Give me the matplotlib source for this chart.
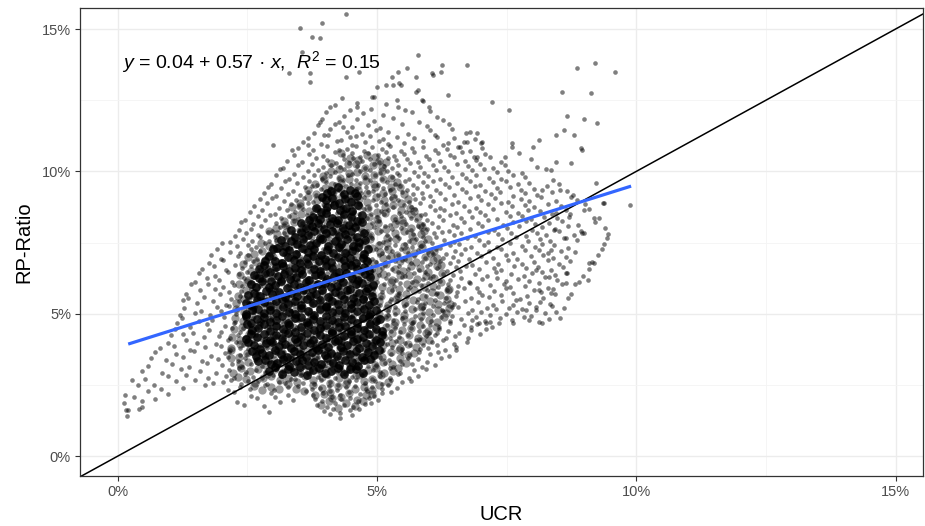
import matplotlib
matplotlib.use("Agg")
import matplotlib.pyplot as plt
import numpy as np
from matplotlib.ticker import FuncFormatter, MultipleLocator

plt.rcParams["font.family"] = ["Liberation Sans", "DejaVu Sans"]
plt.rcParams["mathtext.fontset"] = "custom"
plt.rcParams["mathtext.rm"] = "Liberation Sans"
plt.rcParams["mathtext.it"] = "Liberation Sans:italic"

# UCR (x) vs RP-Ratio (y), both in basis points:
# (RP-Ratio of the row, [UCR values in that row])
body_rows = [
    (140, [18, 409, 428, 451]),
    (160, [15, 41, 291, 397, 415, 429, 448, 466]),
    (180, [12, 46, 243, 281, 312, 385, 404, 418, 437, 454, 476, 489]),
    (200, [31, 72, 229, 268, 303, 337, 380, 394, 413, 430, 448, 463, 484, 502]),
    (220, [14, 58, 97, 224, 257, 296, 329, 362, 377, 396, 410, 428, 445, 467, 480, 495, 509, 527]),
    (240, [39, 84, 126, 168, 213, 236, 255, 283, 301, 329, 348, 375, 389, 408, 422, 441, 457, 478, 491, 509, 522, 538]),
    (260, [27, 69, 112, 149, 183, 203, 218, 238, 252, 271, 288, 310, 323, 341, 357, 378, 391, 409, 425, 446, 459, 477, 496, 509, 527, 548, 566]),
    (280, [52, 96, 131, 174, 208, 224, 245, 261, 279, 300, 315, 334, 353, 367, 386, 405, 419, 438, 452, 471, 490, 505, 524, 540, 561, 579]),
    (300, [47, 86, 121, 158, 189, 214, 234, 248, 267, 283, 305, 318, 336, 352, 373, 388, 406, 422, 443, 456, 474, 493, 506, 524, 545, 571, 594]),
    (320, [58, 104, 137, 171, 201, 220, 239, 256, 278, 291, 309, 325, 346, 360, 378, 397, 411, 430, 444, 463, 482, 497, 516, 530, 549, 568, 587, 611]),
    (340, [64, 92, 126, 162, 193, 213, 231, 246, 265, 282, 304, 317, 335, 351, 372, 387, 405, 421, 442, 455, 473, 492, 505, 523, 544, 559, 578, 597, 623]),
    (360, [72, 113, 146, 180, 206, 215, 236, 250, 268, 285, 307, 320, 338, 354, 375, 390, 408, 424, 446, 459, 477, 496, 509, 527, 548, 562, 581, 602, 618, 639]),
    (380, [81, 109, 139, 168, 198, 217, 235, 252, 274, 287, 305, 321, 342, 356, 374, 393, 406, 425, 439, 458, 480, 494, 511, 528, 549, 563, 582, 599, 615, 631, 652]),
    (400, [97, 131, 152, 189, 212, 227, 242, 261, 278, 300, 313, 331, 347, 368, 382, 400, 419, 432, 451, 465, 484, 506, 520, 537, 554, 575, 589, 606, 628, 649, 674]),
    (420, [103, 126, 167, 195, 217, 232, 246, 266, 283, 305, 318, 336, 352, 374, 387, 405, 424, 437, 456, 470, 489, 511, 525, 542, 559, 580, 594, 611, 632, 651, 676, 699]),
    (440, [111, 145, 176, 199, 221, 235, 255, 269, 288, 304, 326, 339, 357, 373, 394, 409, 427, 443, 464, 477, 495, 514, 527, 545, 566, 581, 600, 619, 636, 658, 681, 711]),
    (460, [114, 139, 171, 207, 224, 241, 256, 275, 292, 314, 327, 345, 361, 383, 396, 414, 433, 446, 465, 479, 498, 520, 534, 551, 568, 589, 603, 620, 641, 667, 693, 722]),
    (480, [123, 156, 181, 204, 226, 246, 260, 279, 295, 317, 330, 348, 367, 381, 400, 414, 433, 447, 468, 481, 499, 518, 531, 549, 570, 585, 604, 623, 641, 662, 690, 709, 738, 761, 784, 812, 831, 853]),
    (500, [119, 148, 177, 199, 228, 243, 263, 277, 296, 312, 334, 347, 365, 381, 402, 417, 435, 451, 472, 485, 503, 522, 535, 553, 574, 589, 608, 627, 645, 675, 701, 718, 749, 770, 797, 823, 846]),
    (520, [128, 161, 192, 214, 229, 249, 263, 282, 298, 320, 333, 351, 370, 384, 403, 417, 436, 450, 471, 484, 502, 521, 534, 552, 573, 588, 607, 626, 644, 657, 683, 712, 730, 762, 779, 806, 838, 861]),
    (540, [126, 152, 184, 209, 233, 252, 267, 286, 302, 324, 337, 355, 374, 388, 407, 421, 440, 454, 475, 488, 506, 525, 538, 556, 577, 592, 611, 630, 649, 670, 694, 723, 741, 768, 793, 815, 833]),
    (560, [135, 166, 197, 219, 235, 255, 269, 288, 304, 326, 339, 357, 376, 390, 409, 423, 442, 456, 477, 490, 508, 527, 540, 558, 579, 594, 613, 632, 652, 681, 703, 716, 739, 775, 790, 821, 844, 869]),
    (580, [131, 159, 188, 214, 237, 256, 271, 290, 306, 328, 341, 359, 378, 392, 411, 425, 444, 458, 479, 492, 510, 529, 542, 560, 581, 596, 615, 634, 655, 668, 697, 726, 748, 763, 802, 817, 840, 874]),
    (600, [142, 174, 203, 224, 240, 259, 274, 293, 309, 331, 344, 362, 381, 395, 414, 428, 447, 461, 482, 495, 513, 532, 545, 563, 584, 599, 618, 637, 657, 679, 692, 718, 744, 757, 786, 812, 829, 857, 881]),
    (620, [149, 171, 196, 221, 244, 263, 278, 297, 313, 335, 348, 366, 385, 399, 418, 432, 451, 465, 486, 499, 517, 536, 549, 567, 588, 603, 622, 641, 661, 677, 703, 731, 749, 771, 794, 824, 848, 889]),
    (640, [156, 188, 213, 233, 249, 268, 283, 302, 318, 340, 353, 371, 390, 404, 423, 437, 456, 470, 491, 504, 522, 541, 554, 572, 593, 608, 627, 646, 659, 688, 712, 729, 758, 783, 799, 818, 843, 866, 898]),
    (660, [163, 185, 209, 239, 256, 272, 290, 306, 327, 341, 359, 378, 392, 411, 425, 444, 458, 479, 492, 510, 529, 542, 560, 581, 596, 615, 634, 652, 671, 696, 725, 739, 765, 788, 811, 836, 858, 909]),
    (680, [176, 203, 226, 245, 261, 279, 296, 313, 333, 347, 365, 384, 398, 417, 431, 450, 464, 485, 498, 516, 535, 548, 566, 587, 602, 621, 640, 657, 683, 711, 733, 752, 779, 803, 829, 851, 873, 918]),
    (700, [179, 198, 232, 251, 268, 285, 301, 320, 339, 353, 371, 390, 404, 423, 437, 456, 470, 491, 504, 522, 541, 554, 572, 593, 608, 627, 646, 662, 678, 701, 724, 748, 770, 797, 821, 840, 864, 926]),
    (720, [192, 217, 236, 257, 274, 290, 308, 326, 345, 359, 377, 396, 410, 429, 443, 462, 476, 497, 510, 528, 547, 560, 578, 599, 614, 633, 651, 669, 693, 716, 739, 762, 786, 813, 829, 855, 881, 933]),
    (740, [201, 229, 251, 267, 283, 298, 317, 333, 352, 366, 384, 403, 417, 436, 450, 469, 483, 504, 517, 535, 554, 567, 585, 606, 621, 640, 658, 681, 706, 731, 756, 779, 804, 818, 842, 869, 938]),
    (760, [217, 241, 259, 275, 291, 306, 325, 341, 360, 374, 392, 411, 425, 444, 458, 477, 491, 512, 525, 543, 562, 575, 593, 614, 629, 648, 673, 697, 714, 741, 768, 791, 815, 833, 860, 886, 943]),
    (780, [226, 247, 271, 289, 303, 320, 338, 355, 369, 387, 406, 420, 439, 453, 472, 486, 507, 520, 538, 557, 570, 588, 609, 626, 648, 661, 689, 713, 734, 758, 787, 809, 826, 851, 879, 946]),
    (800, [234, 256, 277, 297, 312, 328, 347, 363, 378, 396, 415, 429, 448, 462, 481, 495, 516, 529, 547, 566, 579, 597, 617, 638, 655, 679, 703, 726, 751, 774, 798, 819, 844, 868, 893, 939]),
    (820, [238, 261, 284, 306, 321, 339, 355, 372, 387, 405, 424, 438, 457, 471, 490, 504, 525, 538, 556, 575, 588, 606, 627, 646, 668, 694, 713, 742, 763, 788, 805, 831, 856, 887, 921]),
    (840, [246, 271, 293, 314, 330, 347, 364, 380, 396, 414, 433, 447, 466, 480, 499, 513, 534, 547, 565, 584, 597, 619, 640, 662, 684, 709, 731, 756, 779, 797, 822, 847, 873, 918]),
    (860, [255, 279, 303, 327, 342, 358, 375, 389, 405, 423, 442, 456, 475, 489, 508, 522, 543, 556, 574, 593, 611, 629, 652, 677, 698, 723, 749, 771, 792, 814, 838, 864, 909]),
    (880, [263, 288, 311, 334, 350, 366, 383, 398, 414, 432, 451, 465, 484, 498, 517, 531, 552, 565, 583, 602, 622, 645, 667, 691, 714, 739, 761, 786, 803, 829, 855, 902]),
    (900, [274, 297, 321, 344, 359, 376, 391, 407, 423, 441, 460, 474, 493, 507, 526, 540, 561, 574, 589, 608, 631, 656, 679, 701, 727, 752, 778, 794, 817, 846, 885]),
    (920, [281, 305, 329, 351, 367, 383, 400, 416, 432, 450, 469, 483, 502, 516, 535, 549, 570, 586, 603, 621, 648, 671, 694, 719, 737, 762, 785, 809, 838, 874]),
    (940, [289, 314, 338, 361, 375, 392, 409, 425, 441, 459, 478, 492, 511, 525, 544, 558, 577, 596, 614, 639, 663, 689, 708, 731, 756, 778, 802, 827, 866]),
    (960, [296, 322, 346, 369, 384, 401, 418, 434, 450, 468, 487, 501, 520, 534, 553, 569, 588, 607, 631, 654, 680, 699, 723, 748, 771, 793, 851]),
    (980, [305, 331, 357, 379, 393, 410, 427, 443, 459, 477, 496, 510, 529, 543, 562, 579, 598, 622, 645, 672, 691, 716, 739, 762, 786, 839]),
    (1000, [312, 339, 366, 386, 402, 419, 436, 452, 468, 486, 505, 519, 538, 553, 571, 590, 614, 637, 663, 684, 706, 731, 752, 779, 826]),
    (1020, [319, 347, 374, 395, 411, 428, 445, 461, 477, 495, 514, 528, 541, 563, 583, 607, 629, 655, 676, 698, 723, 747, 809]),
    (1040, [327, 356, 383, 403, 420, 437, 454, 470, 486, 504, 521, 536, 557, 578, 601, 622, 648, 669, 691, 717, 739, 796]),
    (1060, [339, 368, 396, 418, 434, 451, 467, 483, 501, 518, 532, 551, 572, 594, 617, 641, 663, 686, 708, 773]),
    (1080, [347, 377, 404, 426, 442, 459, 475, 491, 509, 524, 546, 568, 588, 611, 635, 657, 679, 702, 761]),
    (1100, [358, 391, 423, 451, 477, 503, 521, 552, 589, 628, 667, 702]),
    (1120, [366, 398, 431, 459, 486, 511, 538, 571, 611, 649, 688]),
    (1140, [378, 409, 442, 471, 497, 522, 559, 603, 644, 679]),
    (1160, [386, 418, 451, 482, 506, 549, 597, 638]),
    (1180, [393, 427, 462, 494, 531, 581, 627]),
    (1200, [401, 436, 473, 512, 568, 615]),
    (1220, [409, 447, 489, 541, 603]),
    (1240, [418, 461, 517, 588]),
]

# where the points pile up into grey (overlap zone)
shade_rows = [
    (180, [392, 408, 425, 441, 457, 473]),
    (210, [381, 397, 413, 430, 446, 462, 478, 490]),
    (240, [262, 279, 295, 311, 328, 344, 360, 376, 393, 409, 425, 441, 458, 474, 490, 503]),
    (270, [231, 247, 264, 280, 296, 312, 329, 345, 361, 377, 394, 410, 426, 442, 459, 475, 491, 507, 522]),
    (300, [222, 238, 254, 271, 287, 303, 319, 336, 352, 368, 384, 401, 417, 433, 449, 466, 482, 498, 514, 531, 541]),
    (330, [219, 236, 252, 268, 284, 301, 317, 333, 349, 366, 382, 398, 414, 431, 447, 463, 479, 496, 512, 528, 544, 556]),
    (360, [218, 234, 250, 267, 283, 299, 315, 332, 348, 364, 380, 397, 413, 429, 445, 462, 478, 494, 510, 527, 543, 559, 571]),
    (390, [219, 235, 251, 268, 284, 300, 316, 333, 349, 365, 381, 398, 414, 430, 446, 463, 479, 495, 511, 528, 544, 560, 576, 586]),
    (420, [220, 236, 253, 269, 285, 301, 318, 334, 350, 366, 383, 399, 415, 431, 448, 464, 480, 496, 513, 529, 545, 561, 578, 594, 601]),
    (450, [224, 240, 257, 273, 289, 305, 322, 338, 354, 370, 387, 403, 419, 435, 452, 468, 484, 500, 517, 533, 549, 565, 582, 598, 614]),
    (480, [226, 242, 259, 275, 291, 307, 324, 340, 356, 372, 389, 405, 421, 437, 454, 470, 486, 502, 519, 535, 551, 567, 584, 600, 616, 629]),
    (510, [227, 243, 260, 276, 292, 308, 325, 341, 357, 373, 390, 406, 422, 438, 455, 471, 487, 503, 520, 536, 552, 568, 585, 601, 617, 633, 639]),
    (540, [228, 244, 261, 277, 293, 309, 326, 342, 358, 374, 391, 407, 423, 439, 456, 472, 488, 504, 521, 537, 553, 569, 586, 602, 618, 634, 640]),
    (570, [231, 247, 264, 280, 296, 312, 329, 345, 361, 377, 394, 410, 426, 442, 459, 475, 491, 507, 524, 540, 556, 572, 589, 605, 621, 637]),
    (600, [233, 249, 266, 282, 298, 314, 331, 347, 363, 379, 396, 412, 428, 444, 461, 477, 493, 509, 526, 542, 558, 574, 591, 607, 623, 638]),
    (630, [236, 252, 269, 285, 301, 317, 334, 350, 366, 382, 399, 415, 431, 447, 464, 480, 496, 512, 529, 545, 561, 577, 594, 610, 626]),
    (660, [241, 257, 274, 290, 306, 322, 339, 355, 371, 387, 404, 420, 436, 452, 469, 485, 501, 517, 534, 550, 566, 582, 599, 615, 624]),
    (690, [251, 267, 284, 300, 316, 332, 349, 365, 381, 397, 414, 430, 446, 462, 479, 495, 511, 527, 544, 560, 576, 592, 608, 615]),
    (720, [262, 278, 295, 311, 327, 343, 360, 376, 392, 408, 425, 441, 457, 473, 490, 506, 522, 538, 555, 571, 587, 603, 609]),
    (750, [276, 292, 309, 325, 341, 357, 374, 390, 406, 422, 439, 455, 471, 487, 504, 520, 536, 552, 569, 585, 598]),
    (780, [291, 307, 324, 340, 356, 372, 389, 405, 421, 437, 454, 470, 486, 502, 519, 535, 551, 567, 584, 591]),
    (810, [306, 322, 339, 355, 371, 387, 404, 420, 436, 452, 469, 485, 501, 517, 534, 550, 566, 582, 586]),
    (840, [321, 337, 354, 370, 386, 402, 419, 435, 451, 467, 484, 500, 516, 532, 549, 565, 579]),
    (870, [336, 352, 369, 385, 401, 417, 434, 450, 466, 482, 499, 515, 531, 547, 564, 571]),
    (900, [351, 367, 384, 400, 416, 432, 449, 465, 481, 497, 514, 530, 546, 559]),
    (930, [366, 382, 399, 415, 431, 447, 464, 480, 496, 512, 529, 545, 551]),
    (960, [381, 397, 414, 430, 446, 462, 479, 495, 511, 527, 539]),
    (990, [396, 412, 429, 445, 461, 477, 494, 510, 526]),
    (1020, [411, 427, 444, 460, 476, 492, 509, 518]),
    (1050, [431, 447, 464, 480, 496, 503]),
]

# black core where thousands of points overlap
core_rows = [
    (300, [292, 304, 316, 328, 340, 352, 364, 376, 388, 400, 412, 424, 436, 448, 460, 472]),
    (330, [271, 283, 295, 307, 319, 331, 343, 355, 367, 379, 391, 403, 415, 427, 439, 451, 463, 475, 487]),
    (360, [258, 267, 279, 291, 303, 315, 327, 339, 351, 363, 375, 387, 399, 411, 423, 435, 447, 459, 471, 483, 495, 503]),
    (390, [252, 262, 274, 286, 298, 310, 322, 334, 346, 358, 370, 382, 394, 406, 418, 430, 442, 454, 466, 478, 490, 505]),
    (420, [248, 257, 269, 281, 293, 305, 317, 329, 341, 353, 365, 377, 389, 401, 413, 425, 437, 449, 461, 473, 485, 497, 509]),
    (450, [249, 258, 270, 282, 294, 306, 318, 330, 342, 354, 366, 378, 390, 402, 414, 426, 438, 450, 462, 474, 486, 498, 510]),
    (480, [247, 257, 269, 281, 293, 305, 317, 329, 341, 353, 365, 377, 389, 401, 413, 425, 437, 449, 461, 473, 485, 497, 506]),
    (510, [248, 258, 270, 282, 294, 306, 318, 330, 342, 354, 366, 378, 390, 402, 414, 426, 438, 450, 462, 474, 486, 498]),
    (540, [247, 257, 269, 281, 293, 305, 317, 329, 341, 353, 365, 377, 389, 401, 413, 425, 437, 449, 461, 473, 485, 495]),
    (570, [252, 262, 274, 286, 298, 310, 322, 334, 346, 358, 370, 382, 394, 406, 418, 430, 442, 454, 466, 478, 490]),
    (600, [257, 267, 279, 291, 303, 315, 327, 339, 351, 363, 375, 387, 399, 411, 423, 435, 447, 459, 471, 483, 492]),
    (630, [263, 272, 284, 296, 308, 320, 332, 344, 356, 368, 380, 392, 404, 416, 428, 440, 452, 464, 476, 486]),
    (660, [273, 282, 294, 306, 318, 330, 342, 354, 366, 378, 390, 402, 414, 426, 438, 450, 462, 474, 484]),
    (690, [284, 292, 304, 316, 328, 340, 352, 364, 376, 388, 400, 412, 424, 436, 448, 460, 472, 481]),
    (720, [299, 307, 319, 331, 343, 355, 367, 379, 391, 403, 415, 427, 439, 451, 463, 475, 482]),
    (750, [314, 322, 334, 346, 358, 370, 382, 394, 406, 418, 430, 442, 454, 466, 476]),
    (780, [334, 342, 354, 366, 378, 390, 402, 414, 426, 438, 450, 462, 474]),
    (810, [353, 362, 374, 386, 398, 410, 422, 434, 446, 458, 470]),
    (840, [368, 377, 389, 401, 413, 425, 437, 449, 461, 471]),
    (870, [383, 392, 404, 416, 428, 440, 452, 464]),
    (900, [393, 402, 414, 426, 438, 450, 462]),
    (930, [404, 412, 424, 436, 448, 458]),
]

# isolated points around the cloud, (UCR %, RP-Ratio %)
outlier_pts = [
    (3.51, 15.03), (3.93, 15.21), (3.74, 14.72), (3.89, 14.68), (4.41, 15.52),
    (3.31, 13.45), (3.70, 13.45), (3.70, 13.14), (4.41, 13.31), (3.55, 14.19),
    (4.32, 12.57), (4.62, 12.26), (4.99, 12.96), (4.95, 12.61), (3.89, 11.73),
    (2.99, 10.92), (3.35, 10.75), (3.66, 10.92), (4.05, 11.28), (4.34, 11.56),
    (4.47, 11.20), (5.78, 14.08), (6.26, 13.73), (5.40, 13.49), (5.28, 13.31),
    (5.57, 13.63), (5.76, 13.31), (6.07, 13.38), (6.24, 13.49), (5.18, 13.03),
    (5.43, 13.10), (5.78, 12.86), (6.36, 12.68), (4.66, 13.49), (4.91, 12.61),
    (5.38, 12.50), (5.53, 12.15), (5.86, 12.50), (6.01, 12.26), (6.74, 13.73),
    (6.05, 13.45), (5.76, 12.79), (7.21, 12.43), (7.55, 12.15), (8.86, 13.63),
    (9.21, 13.80), (9.58, 13.49), (8.57, 12.79), (9.13, 12.75), (8.67, 11.94),
    (9.00, 11.84), (9.25, 11.70), (8.80, 11.28), (8.46, 11.28), (8.61, 11.45),
    (8.94, 10.82), (8.13, 11.10), (8.00, 10.85), (7.61, 10.99), (7.46, 10.50),
    (6.92, 10.50), (7.01, 10.99), (6.74, 11.03), (6.71, 11.35), (6.92, 11.35),
    (6.59, 10.85), (6.36, 10.99), (6.15, 11.20), (5.47, 13.03), (5.30, 13.03),
    (9.23, 9.59), (9.87, 8.82), (9.38, 8.89), (9.29, 8.36), (9.00, 7.83),
    (9.15, 6.81), (8.96, 7.83), (9.09, 6.78), (9.06, 6.18), (8.65, 6.43),
    (8.65, 6.08), (9.35, 8.89), (8.96, 10.75), (8.46, 10.33), (8.75, 10.29),
    (8.36, 10.05), (8.19, 9.34), (8.52, 9.34), (8.77, 9.17), (9.00, 8.64),
    (8.46, 8.54), (8.71, 8.39), (8.42, 7.94), (8.65, 7.66), (8.36, 7.24),
    (8.07, 6.53), (8.32, 6.29), (8.13, 5.83), (8.36, 5.73), (8.07, 5.23),
    (7.94, 4.78), (6.84, 4.78), (7.11, 4.67), (6.53, 3.72), (7.55, 5.20),
    (7.88, 5.13), (6.97, 4.67), (7.17, 4.71), (6.82, 4.53), (6.15, 4.32),
    (7.35, 4.68), (7.62, 4.69), (8.19, 4.67), (0.19, 1.62), (0.46, 1.93),
]

# how far (bp) each point of a row sits above/below the row line, read as a cycle
row_spread = [0, 9, -7, 4, -3, 8, -9, 2, 6, -5, -1, 7, -8, 3, 5, -6, 1, -4, 9, -2,
              -7, 6, 0, -9, 4, 8, -3, 2, -6, 7, -1, 5, -8, 3, -4, 9, -5]

# linear fit (percent units)
fit_intercept = 3.82
fit_slope = 0.572
fit_x_range = [0.20, 9.90]
fit_label = r"$y$ = 0.04 + 0.57 · $x$,  $R^2$ = 0.15"

x_ticks = [0, 5, 10, 15]
y_ticks = [0, 5, 10, 15]
x_lim = (-0.73, 15.53)
y_lim = (-0.70, 15.74)


def rows_to_xy(rows, spread=1.0):
    xs, ys = [], []
    n = len(row_spread)
    for r, (y_bp, x_bp) in enumerate(rows):
        for i, v in enumerate(x_bp):
            off = row_spread[(i + 7 * r) % n] * spread
            xs.append(v / 100)
            ys.append((y_bp + off) / 100)
    return np.array(xs), np.array(ys)


def pct(v, _pos):
    return f"{v:.0f}%"


def main():
    fig, ax = plt.subplots(figsize=(9.25, 5.26), dpi=100)
    fig.subplots_adjust(left=80 / 925, right=923 / 925, bottom=50 / 526, top=518 / 526)

    ax.set_axisbelow(True)
    ax.xaxis.set_minor_locator(MultipleLocator(2.5))
    ax.yaxis.set_minor_locator(MultipleLocator(2.5))
    ax.grid(which="major", color="#ececec", linewidth=1.0)
    ax.grid(which="minor", color="#f4f4f4", linewidth=0.6)

    sx, sy = rows_to_xy(shade_rows, spread=1.5)
    cx, cy = rows_to_xy(core_rows, spread=1.5)
    bx, by = rows_to_xy(body_rows, spread=1.0)
    ox = np.array([p[0] for p in outlier_pts])
    oy = np.array([p[1] for p in outlier_pts])

    ax.scatter(sx, sy, s=36, color="black", alpha=0.4, linewidths=0)
    ax.scatter(cx, cy, s=40, color="black", alpha=0.85, linewidths=0)
    ax.scatter(bx, by, s=11, color="black", alpha=0.5, linewidths=0)
    ax.scatter(ox, oy, s=11, color="black", alpha=0.5, linewidths=0)

    ax.axline((0, 0), slope=1, color="black", linewidth=1.1)
    fx = np.array(fit_x_range)
    ax.plot(fx, fit_intercept + fit_slope * fx, color="#3366FF", linewidth=2.3,
            solid_capstyle="butt")

    ax.text(0.08, 13.84, fit_label, fontsize=14, ha="left", va="center")

    ax.set_xlim(*x_lim)
    ax.set_ylim(*y_lim)
    ax.set_xticks(x_ticks)
    ax.set_yticks(y_ticks)
    ax.xaxis.set_major_formatter(FuncFormatter(pct))
    ax.yaxis.set_major_formatter(FuncFormatter(pct))
    ax.tick_params(which="major", length=3.5, width=0.8, color="#333333",
                   labelcolor="#4d4d4d", labelsize=10.5, pad=3)
    ax.tick_params(which="minor", length=0)

    for side in ["left", "right", "top", "bottom"]:
        ax.spines[side].set_color("#333333")
        ax.spines[side].set_linewidth(0.9)

    ax.set_xlabel("UCR", fontsize=14.5, labelpad=4)
    ax.set_ylabel("RP-Ratio", fontsize=14.5, labelpad=6)

    fig.savefig("out.png", dpi=100)
    plt.close(fig)


if __name__ == "__main__":
    main()
